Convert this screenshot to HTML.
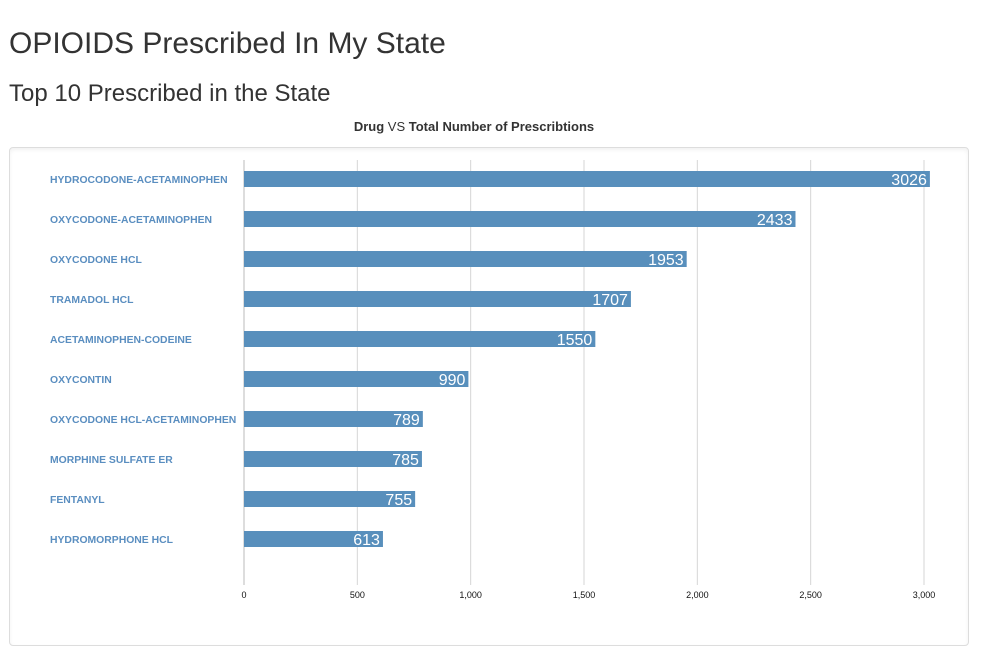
<!DOCTYPE html>
<html><head><meta charset="utf-8"><style>
body{margin:0;width:986px;height:654px;background:#fff;font-family:"Liberation Sans",Arial,sans-serif;color:#333;position:relative;overflow:hidden}
h1{position:absolute;left:9px;top:27px;margin:0;font-size:30px;font-weight:normal}
h2{position:absolute;left:9px;top:80px;margin:0;font-size:24px;font-weight:normal}
.ct{position:absolute;left:0;width:948px;top:119px;text-align:center;font-size:13px}
.box{position:absolute;left:9px;top:147px;width:958px;height:497px;border:1px solid #ddd;border-radius:4px;box-shadow:inset 0 2px 4px rgba(0,0,0,0.06)}
svg{position:absolute;left:0;top:0}
</style></head><body>
<h1>OPIOIDS Prescribed In My State</h1>
<h2>Top 10 Prescribed in the State</h2>
<div class="ct"><b>Drug</b> VS <b>Total Number of Prescribtions</b></div>
<div class="box"></div>
<svg id="c" width="986" height="654"></svg>
<script>
const categories=["HYDROCODONE-ACETAMINOPHEN","OXYCODONE-ACETAMINOPHEN","OXYCODONE HCL","TRAMADOL HCL","ACETAMINOPHEN-CODEINE","OXYCONTIN","OXYCODONE HCL-ACETAMINOPHEN","MORPHINE SULFATE ER","FENTANYL","HYDROMORPHONE HCL"];
const values=[3026,2433,1953,1707,1550,990,789,785,755,613];
const ticks=[0,500,1000,1500,2000,2500,3000];
const NS="http://www.w3.org/2000/svg";
const svg=document.getElementById('c');
const x=v=>244+v*680/3000;
const y=i=>171+i*40;
function mk(t,a){const e=document.createElementNS(NS,t);for(const k in a)e.setAttribute(k,a[k]);svg.appendChild(e);return e;}
ticks.forEach(t=>{
 const l=mk('line',{x1:x(t),x2:x(t),y1:160,y2:585,stroke:t===0?'#ddd':'#d6d6d6','stroke-width':t===0?2:1});
 
 
 const tx=mk('text',{x:x(t),y:598,'font-size':9,'text-anchor':'middle',fill:'#111'});
 tx.textContent=t.toLocaleString('en-US');
 
 
});
categories.forEach((c,i)=>{
 const r=mk('rect',{x:x(0),y:y(i),width:x(values[i])-x(0),height:16,fill:'#588fbc'});
 
 
 const lb=mk('text',{x:50,y:y(i)+12,'font-size':10.4,'font-weight':'bold',fill:'#5a8ec0'});
 lb.textContent=c;
 
 
 const v=mk('text',{x:x(values[i])-3,y:y(i)+14,'font-size':16,'text-anchor':'end',fill:'#fff'});
 v.textContent=values[i];
 
 
});
</script>
</body></html>
